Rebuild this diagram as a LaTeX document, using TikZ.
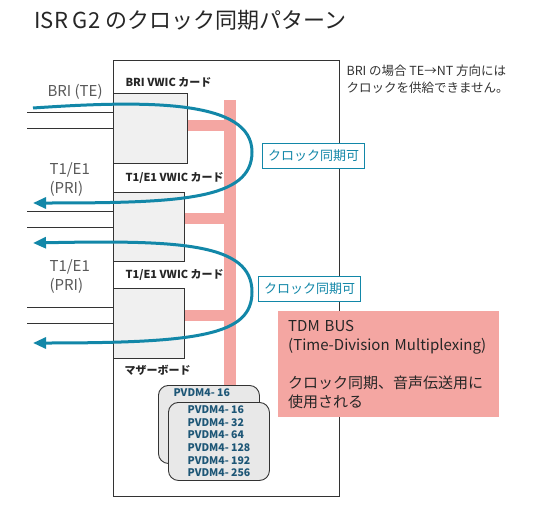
\documentclass[tikz,border=0pt]{standalone}
\usepackage{fontspec}
\setmainfont{Noto Sans CJK JP}
\usetikzlibrary{arrows.meta,positioning}
\definecolor{clkblue}{HTML}{1287A8}
\definecolor{buspink}{HTML}{F4A6A2}
\definecolor{edgegray}{HTML}{333333}
\definecolor{cardgray}{HTML}{F0F0F0}
\definecolor{pvdmgray}{HTML}{E8E8E8}
\definecolor{pvdmblue}{HTML}{1D5676}
\begin{document}
\begin{tikzpicture}[x=1pt,y=-1pt,>={Triangle[length=13pt,width=11pt]},font=\fontsize{12}{15}\selectfont]
        \tikzset{card/.style={draw=edgegray, line width=0.9pt, fill=cardgray, anchor=north west, inner sep=0pt},
                 cardlbl/.style={anchor=west, font=\fontsize{11}{13}\selectfont\bfseries, text=black!85},
                 wire/.style={draw=edgegray, line width=0.9pt},
                 stub/.style={draw=buspink, line width=11pt},
                 clk/.style={draw=clkblue, line width=3pt},
                 synclbl/.style={draw=clkblue, line width=1.2pt, fill=white, text=clkblue, minimum width=102pt, minimum height=25pt, anchor=north west, font=\fontsize{13}{15}\selectfont},
                 pvdm/.style={draw=edgegray, line width=0.9pt, fill=pvdmgray, rounded corners=10pt, minimum width=101pt, minimum height=78pt, anchor=north west},
                 pvdmtxt/.style={text=pvdmblue, font=\fontsize{10.5}{12.6}\selectfont\bfseries, align=left},
                 side/.style={anchor=west, align=left, text=black!65, font=\fontsize{15}{19}\selectfont}}
        \useasboundingbox (0,0) rectangle (535,506);
        \node[anchor=west, text=black!85, font=\fontsize{22}{26}\selectfont] (title) at (31,20) {ISR G2 のクロック同期パターン};
        % router chassis and bus
        \node[draw=edgegray, line width=0.9pt, minimum width=226pt, minimum height=436pt, anchor=north west, inner sep=0pt] (board) at (113,60) {};
        \node[fill=buspink, minimum width=12pt, minimum height=286pt, anchor=north west, inner sep=0pt] (bus) at (224,100) {};
        \node[card, minimum width=74pt, minimum height=70pt] (bri) at (113,93) {};
        \node[card, minimum width=71pt, minimum height=69pt] (pri1) at (113,192) {};
        \node[card, minimum width=71pt, minimum height=70pt] (pri2) at (113,288) {};
        \draw[stub] ([yshift=3pt]bri.east) -- ([yshift=3pt]bri.east -| bus.west);
        \draw[stub] ([yshift=8pt]pri1.east) -- ([yshift=8pt]pri1.east -| bus.west);
        \draw[stub] ([yshift=8pt]pri2.east) -- ([yshift=8pt]pri2.east -| bus.west);
        \foreach \c in {bri,pri1,pri2} {
            \draw[wire] ([yshift=16pt]\c.west) -- +(-86pt,0);
            \draw[wire] ([yshift=0pt]\c.west) -- +(-86pt,0);
        }
        \node[cardlbl] (brilbl) at (122,82) {BRI VWIC カード};
        \node[cardlbl] (pri1lbl) at (122,178) {T1/E1 VWIC カード};
        \node[cardlbl] (pri2lbl) at (122,275) {T1/E1 VWIC カード};
        \node[cardlbl] (mblbl) at (121,370) {マザーボード};
        % PVDM modules
        \node[pvdm] (pvdmA) at (158,385) {};
        \node[pvdmtxt, anchor=west] (pvdmAtxt) at (170,393) {PVDM4- 16};
        \node[pvdm, pvdmtxt, inner xsep=12pt] (pvdmB) at (168,402) {PVDM4- 16\\PVDM4- 32\\PVDM4- 64\\PVDM4- 128\\PVDM4- 192\\PVDM4- 256};
        % clock paths
        \coordinate (briin) at (33,108);
        \coordinate (pri1out) at (33,203);
        \coordinate (pri2in) at (33,243);
        \coordinate (pri2out) at (33,343);
        \draw[clk,->] (briin) .. controls (150,100) and (252,100) .. (252,152) .. controls (252,200) and (180,203) .. (pri1out);
        \draw[clk,<->] (pri2in) .. controls (180,240) and (252,243) .. (252,292) .. controls (252,335) and (200,343) .. (pri2out);
        \node[synclbl] (sync1) at (262,143) {クロック同期可};
        \node[synclbl] (sync2) at (258,276) {クロック同期可};
        \node[side] (brite) at (44,92) {BRI (TE)};
        \node[side] (pri1txt) at (46,180) {T1/E1\\(PRI)};
        \node[side] (pri2txt) at (46,277) {T1/E1\\(PRI)};
        \node[anchor=north west, align=left, text=black!80, font=\fontsize{12.5}{17}\selectfont] (note) at (343,61) {BRI の場合 TE→NT 方向には\\クロックを供給できません。};
        \node[fill=buspink, minimum width=221pt, minimum height=106pt, text width=201pt, inner xsep=10pt, align=left, anchor=north west, text=black!85, font=\fontsize{15}{19}\selectfont] (tdm) at (278,311) {TDM BUS\\(Time-Division Multiplexing)\\[19pt]クロック同期、音声伝送用に\\使用される};
    \end{tikzpicture}
\end{document}
